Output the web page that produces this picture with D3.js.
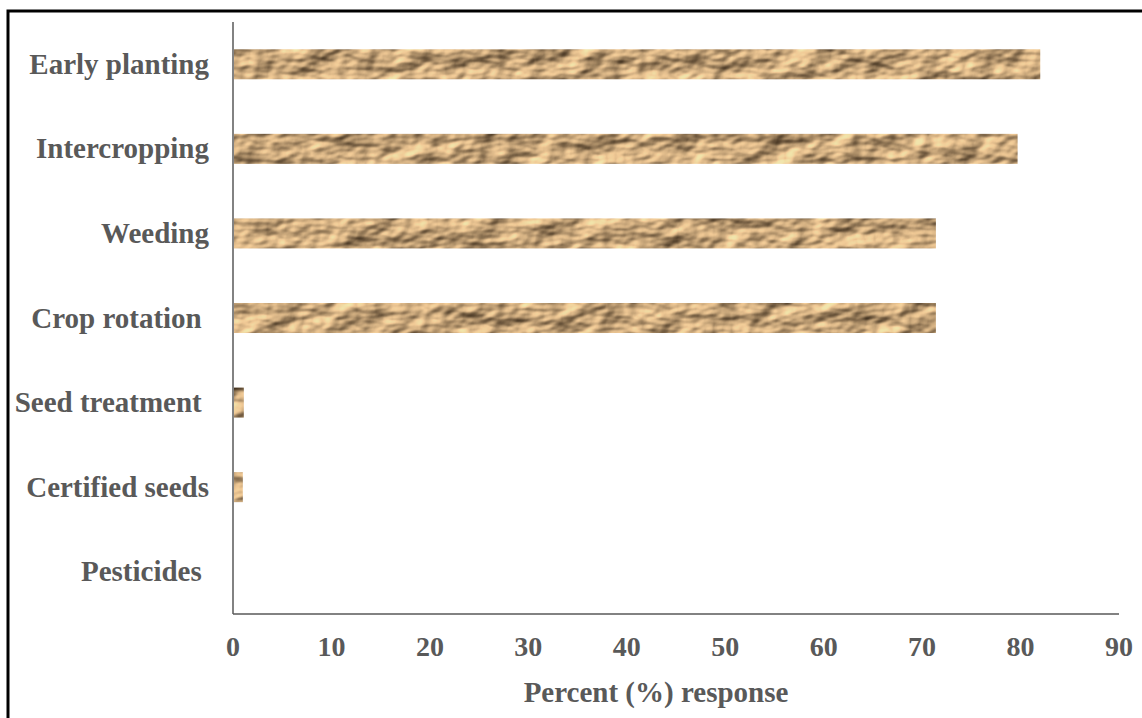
<!DOCTYPE html>
<html><head><meta charset="utf-8">
<script src="https://cdn.jsdelivr.net/npm/d3@7"></script>
<style>
html,body{margin:0;padding:0;background:#fff;}
svg{display:block;}
text{font-family:"Liberation Serif","Times New Roman",serif;font-weight:bold;fill:#595959;}
</style></head>
<body>
<svg id="chart" width="1142" height="718"></svg>
<script>
const categories = ["Early planting","Intercropping","Weeding","Crop rotation ","Seed treatment ","Certified seeds","Pesticides "];
const values = [82.0, 79.7, 71.4, 71.4, 1.1, 1.0, 0];
const xTicks = [0,10,20,30,40,50,60,70,80,90];
const xTitle = "Percent (%) response";

const svg = d3.select("#chart");
const W = 1142, H = 718;
const m = {left:233, right:1119, top:22, bottom:614};

// frame
svg.append("path").attr("d", `M8,${H+5} L8,11 L${W+5},11`)
  .attr("fill","none").attr("stroke","#000").attr("stroke-width",3);

const defs = svg.append("defs");
const f = defs.append("filter").attr("id","paper")
  .attr("x","-5%").attr("y","-10%").attr("width","110%").attr("height","120%")
  .attr("color-interpolation-filters","sRGB");
f.append("feTurbulence").attr("type","fractalNoise").attr("baseFrequency","0.028 0.05")
  .attr("numOctaves",3).attr("seed",11).attr("result","noise");
const dl = f.append("feDiffuseLighting").attr("in","noise").attr("lighting-color","#f6d6a6")
  .attr("surfaceScale",5).attr("diffuseConstant",1.3).attr("result","lit");
dl.append("feDistantLight").attr("azimuth",225).attr("elevation",40);
f.append("feFlood").attr("flood-color","#7a5028").attr("result","brown");
f.append("feComposite").attr("in","lit").attr("in2","brown").attr("operator","arithmetic")
  .attr("k1",0).attr("k2",0.8).attr("k3",0.3).attr("k4",0).attr("result","mix");
f.append("feComposite").attr("in","mix").attr("in2","SourceGraphic").attr("operator","in");

const x = d3.scaleLinear().domain([0,90]).range([m.left, m.right]);
const y = d3.scaleBand().domain(categories).range([m.top, m.bottom])
  .paddingInner(0.645).paddingOuter(0.3225);

svg.append("g").selectAll("rect").data(categories).join("rect")
  .attr("x", x(0)+1)
  .attr("y", d => y(d))
  .attr("width", (d,i) => Math.max(0, x(values[i]) - x(0) - 1))
  .attr("height", y.bandwidth())
  .attr("fill","#c49a68")
  .attr("filter","url(#paper)");

// axes lines
svg.append("line").attr("x1",m.left).attr("x2",m.left).attr("y1",m.top).attr("y2",m.bottom)
  .attr("stroke","#595959").attr("stroke-width",1.5);
svg.append("line").attr("x1",m.left).attr("x2",m.right).attr("y1",m.bottom).attr("y2",m.bottom)
  .attr("stroke","#595959").attr("stroke-width",1.5);

// category labels
svg.append("g").selectAll("text").data(categories).join("text")
  .attr("x", 209).attr("y", d => y(d) + y.bandwidth()/2)
  .attr("dy","0.33em").attr("text-anchor","end")
  .attr("font-size",29).style("white-space","pre")
  .text(d => d);

// x tick labels
svg.append("g").selectAll("text").data(xTicks).join("text")
  .attr("x", d => x(d)).attr("y", 656).attr("text-anchor","middle")
  .attr("font-size",28).text(d => d);

svg.append("text").attr("x", 656).attr("y", 702)
  .attr("text-anchor","middle").attr("font-size",29).text(xTitle);
</script>
</body></html>
